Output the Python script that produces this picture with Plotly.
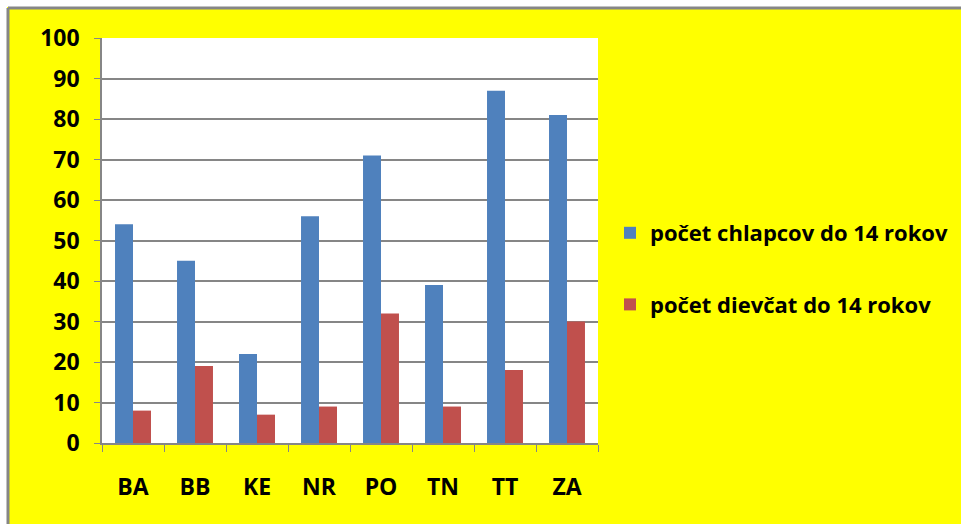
import plotly.graph_objects as go

# kraje and values
regions = ['BA', 'BB', 'KE', 'NR', 'PO', 'TN', 'TT', 'ZA']
boys = [54, 45, 22, 56, 71, 39, 87, 81]
girls = [8, 19, 7, 9, 32, 9, 18, 30]
series_names = ['počet chlapcov do 14 rokov', 'počet dievčat do 14 rokov']

BLUE = '#4F81BD'
RED = '#C0504D'
GRID = '#868686'
FONT = 'Open Sans'

W, H = 961, 524
L, R, T, B = 102, 363, 38, 81
pw, ph = W - L - R, H - T - B


def px_x(p):
    return (p - L) / pw


def px_y(p):
    return (H - B - p) / ph


fig = go.Figure()
fig.add_trace(go.Bar(name=series_names[0], x=regions, y=boys, marker_color=BLUE,
                     marker_line_width=0, legendgroup='a'))
fig.add_trace(go.Bar(name=series_names[1], x=regions, y=girls, marker_color=RED,
                     marker_line_width=0, legendgroup='b'))

# white strip outside the frame + gray frame lines
shapes = [
    dict(type='rect', xref='paper', yref='paper', x0=px_x(-5), x1=px_x(7), y0=px_y(H + 5), y1=px_y(-5),
         fillcolor='white', line_width=0, layer='above'),
    dict(type='rect', xref='paper', yref='paper', x0=px_x(-5), x1=px_x(W + 5), y0=px_y(7), y1=px_y(-5),
         fillcolor='white', line_width=0, layer='above'),
    dict(type='line', xref='paper', yref='paper', x0=px_x(8), x1=px_x(8), y0=px_y(8), y1=px_y(H + 5),
         line=dict(color=GRID, width=3), layer='above'),
    dict(type='line', xref='paper', yref='paper', x0=px_x(8), x1=px_x(W + 5), y0=px_y(8), y1=px_y(8),
         line=dict(color=GRID, width=3), layer='above'),
]

fig.update_layout(
    width=W, height=H,
    margin=dict(l=L, r=R, t=T, b=B, pad=0, autoexpand=False),
    paper_bgcolor='#FFFF00', plot_bgcolor='white',
    barmode='group', bargap=0.42, bargroupgap=0,
    font=dict(family=FONT, color='black', size=23, weight='bold'),
    shapes=shapes,
    legend=dict(x=px_x(610), y=px_y(269), xanchor='left', yanchor='middle',
                bgcolor='rgba(0,0,0,0)', font=dict(size=22, family=FONT, weight='bold'),
                traceorder='grouped', tracegroupgap=40, itemwidth=30),
)
fig.update_yaxes(range=[0, 100], dtick=10, showgrid=True, gridcolor=GRID, gridwidth=1.5,
                 showline=True, linecolor=GRID, linewidth=1.5, ticks='outside', ticklen=6,
                 tickcolor=GRID, ticklabelstandoff=10, zeroline=False, fixedrange=True)
fig.update_xaxes(showline=True, linecolor=GRID, linewidth=2, ticks='outside', ticklen=7,
                 tickcolor=GRID, tickson='boundaries', ticklabelstandoff=22, showgrid=False,
                 fixedrange=True)

fig.write_html('out.html', config={'displayModeBar': False},
               post_script="document.body.style.margin='0';")
